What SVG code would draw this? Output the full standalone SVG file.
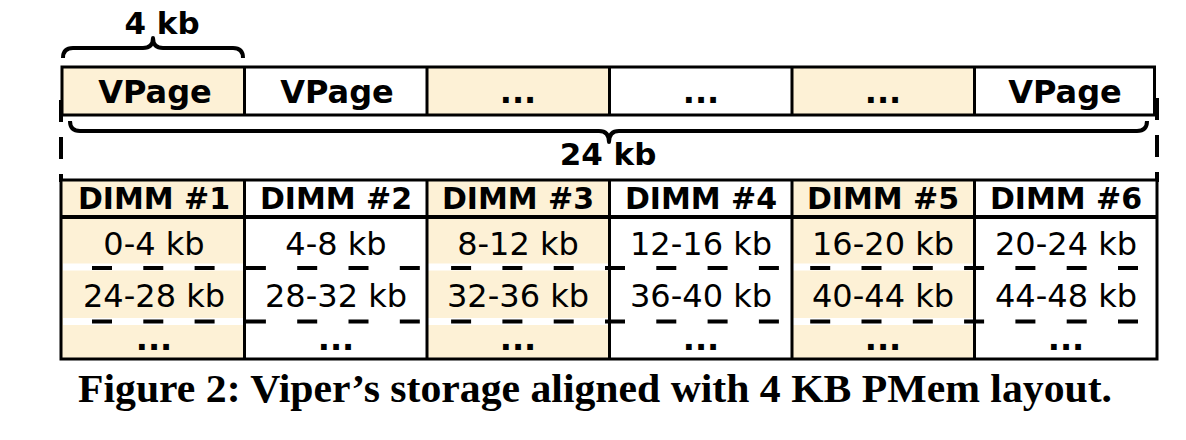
<svg xmlns="http://www.w3.org/2000/svg" width="1186" height="440" viewBox="0 0 1186 440">
<style>
.y{fill:#FDF1D6}
.w{fill:#FFFFFF}
.bd{fill:none;stroke:#000;stroke-width:3}
.ln{stroke:#000;stroke-width:3}
.br{fill:none;stroke:#000;stroke-width:4;stroke-linejoin:round;stroke-linecap:butt}
.vp{font-family:"DejaVu Sans",sans-serif;font-weight:700;font-size:32px;text-anchor:middle}
.hd{font-family:"DejaVu Sans",sans-serif;font-weight:700;font-size:30px;text-anchor:middle}
.rg{font-family:"DejaVu Sans",sans-serif;font-weight:400;font-size:32px;text-anchor:middle}
.lb{font-family:"DejaVu Sans",sans-serif;font-weight:700;font-size:31px;text-anchor:middle}
.cap{font-family:"Liberation Serif","Times New Roman",serif;font-weight:700;font-size:39px;text-anchor:middle}
.wb{stroke:#fff;stroke-width:7}
.dd{stroke:#000;stroke-width:4;stroke-dasharray:20 31.3}
.vd{stroke:#000;stroke-width:4;stroke-dasharray:22 15}
</style>

<g id="brace-4kb">
<path class="br" d="M63,58 Q63,48 73,48 L143,48 Q153,48 153,38 Q153,48 163,48 L233,48 Q243,48 243,58"/>
<text class="lb" x="162" y="34">4 kb</text>
</g>

<g id="vpage-row">
<rect class="y" x="62" y="67" width="182.5" height="48"/>
<rect class="w" x="244.5" y="67" width="182.5" height="48"/>
<rect class="y" x="427" y="67" width="182.5" height="48"/>
<rect class="w" x="609.5" y="67" width="182.5" height="48"/>
<rect class="y" x="792" y="67" width="182.5" height="48"/>
<rect class="w" x="974.5" y="67" width="180" height="48"/>
<rect class="bd" x="62" y="67" width="1092.5" height="48"/>
<line class="ln" x1="244.5" y1="67" x2="244.5" y2="115"/>
<line class="ln" x1="427" y1="67" x2="427" y2="115"/>
<line class="ln" x1="609.5" y1="67" x2="609.5" y2="115"/>
<line class="ln" x1="792" y1="67" x2="792" y2="115"/>
<line class="ln" x1="974.5" y1="67" x2="974.5" y2="115"/>
<text class="vp" x="155" y="103">VPage</text>
<text class="vp" x="337" y="103">VPage</text>
<text class="vp" x="518" y="103">...</text>
<text class="vp" x="701" y="103">...</text>
<text class="vp" x="883" y="103">...</text>
<text class="vp" x="1065" y="103">VPage</text>
</g>

<g id="brace-24kb">
<line class="vd" x1="61" y1="100" x2="61" y2="182"/>
<line class="vd" x1="1157" y1="98" x2="1157" y2="182"/>
<path class="br" d="M70,121 Q70,131 80,131 L599,131 Q609,131 609,142 Q609,131 619,131 L1137,131 Q1147,131 1147,121"/>
<text class="lb" x="608" y="165">24 kb</text>
</g>

<g id="dimm-table">
<rect class="y" x="62" y="180" width="182.5" height="179"/>
<rect class="w" x="244.5" y="180" width="182.5" height="179"/>
<rect class="y" x="427" y="180" width="182.5" height="179"/>
<rect class="w" x="609.5" y="180" width="182.5" height="179"/>
<rect class="y" x="792" y="180" width="182.5" height="179"/>
<rect class="w" x="974.5" y="180" width="182.5" height="179"/>
<line class="wb" x1="63" y1="267" x2="1156" y2="267"/>
<line class="wb" x1="63" y1="321.5" x2="1156" y2="321.5"/>
<line class="dd" x1="92" y1="268" x2="1157" y2="268"/>
<line class="dd" x1="92" y1="321.5" x2="1157" y2="321.5"/>
<rect class="bd" x="61" y="180" width="1096" height="179"/>
<line x1="61" y1="217" x2="1157" y2="217" stroke="#000" stroke-width="4"/>
<line class="ln" x1="244.5" y1="180" x2="244.5" y2="359"/>
<line class="ln" x1="427" y1="180" x2="427" y2="359"/>
<line class="ln" x1="609.5" y1="180" x2="609.5" y2="359"/>
<line class="ln" x1="792" y1="180" x2="792" y2="359"/>
<line class="ln" x1="974.5" y1="180" x2="974.5" y2="359"/>
<text class="hd" x="154" y="209">DIMM #1</text>
<text class="hd" x="336" y="209">DIMM #2</text>
<text class="hd" x="518" y="209">DIMM #3</text>
<text class="hd" x="701" y="209">DIMM #4</text>
<text class="hd" x="883" y="209">DIMM #5</text>
<text class="hd" x="1066" y="209">DIMM #6</text>
<text class="rg" x="154" y="255">0-4 kb</text>
<text class="rg" x="336" y="255">4-8 kb</text>
<text class="rg" x="518" y="255">8-12 kb</text>
<text class="rg" x="701" y="255">12-16 kb</text>
<text class="rg" x="883" y="255">16-20 kb</text>
<text class="rg" x="1066" y="255">20-24 kb</text>
<text class="rg" x="154" y="307">24-28 kb</text>
<text class="rg" x="336" y="307">28-32 kb</text>
<text class="rg" x="518" y="307">32-36 kb</text>
<text class="rg" x="701" y="307">36-40 kb</text>
<text class="rg" x="883" y="307">40-44 kb</text>
<text class="rg" x="1066" y="307">44-48 kb</text>
<text class="vp" x="154" y="350">...</text>
<text class="vp" x="336" y="350">...</text>
<text class="vp" x="518" y="350">...</text>
<text class="vp" x="701" y="350">...</text>
<text class="vp" x="883" y="350">...</text>
<text class="vp" x="1066" y="350">...</text>
</g>

<text class="cap" x="595" y="402" textLength="1034" lengthAdjust="spacingAndGlyphs">Figure 2: Viper’s storage aligned with 4 KB PMem layout.</text>
</svg>
